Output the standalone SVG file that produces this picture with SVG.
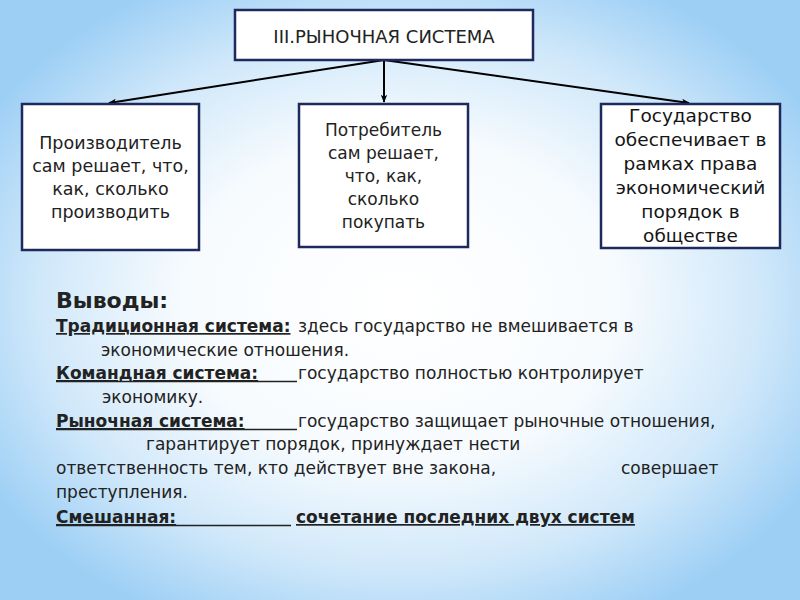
<svg xmlns="http://www.w3.org/2000/svg" width="800" height="600" viewBox="0 0 800 600">
  <defs>
    <radialGradient id="bg" cx="50%" cy="50%" r="60%" fx="50%" fy="50%">
      <stop offset="0" stop-color="#ffffff"/>
      <stop offset="0.45" stop-color="#f7fbfe"/>
      <stop offset="0.75" stop-color="#d0e8fa"/>
      <stop offset="1" stop-color="#9dcff5"/>
    </radialGradient>
    <marker id="arr" viewBox="0 0 10 10" refX="9" refY="5" markerWidth="8" markerHeight="8" orient="auto" markerUnits="userSpaceOnUse">
      <path d="M0,1 L10,5 L0,9 L2.5,5 Z" fill="#000"/>
    </marker>
    <style>
      .box { fill: #ffffff; stroke: #1e2a5e; stroke-width: 2.5; }
      .t { font-family: "DejaVu Sans", "Liberation Sans", sans-serif; fill: #222; }
      .lt { font-size: 17.5px; text-anchor: middle; }
      .mt { font-size: 17px; text-anchor: middle; }
      .rt { font-size: 18.5px; text-anchor: middle; fill: #151515; }
      .body { font-size: 17px; }
      .b { font-weight: bold; }
      .u { text-decoration: underline; }
      .ul { stroke: #222; stroke-width: 1.3; }
      .conn { stroke: #000; stroke-width: 2; fill: none; marker-end: url(#arr); }
    </style>
  </defs>
  <rect width="800" height="600" fill="url(#bg)"/>

  <g id="connectors">
    <line class="conn" x1="384" y1="60" x2="109" y2="103"/>
    <line class="conn" x1="384" y1="60" x2="384" y2="102"/>
    <line class="conn" x1="384" y1="60" x2="689" y2="103"/>
  </g>

  <g id="top">
    <rect class="box" x="235" y="10" width="298" height="50"/>
    <text class="t" x="384" y="43" font-size="18" text-anchor="middle" fill="#1a1a1a">III.РЫНОЧНАЯ СИСТЕМА</text>
  </g>

  <g id="producer">
    <rect class="box" x="22" y="104" width="177" height="146"/>
    <text class="t lt" x="110.5" y="149">Производитель</text>
    <text class="t lt" x="110.5" y="172">сам решает, что,</text>
    <text class="t lt" x="110.5" y="195">как, сколько</text>
    <text class="t lt" x="110.5" y="218">производить</text>
  </g>

  <g id="consumer">
    <rect class="box" x="299" y="104" width="169" height="143"/>
    <text class="t mt" x="383.5" y="136">Потребитель</text>
    <text class="t mt" x="383.5" y="159">сам решает,</text>
    <text class="t mt" x="383.5" y="182">что, как,</text>
    <text class="t mt" x="383.5" y="205">сколько</text>
    <text class="t mt" x="383.5" y="228">покупать</text>
  </g>

  <g id="state">
    <rect class="box" x="601" y="104" width="179" height="144"/>
    <text class="t rt" x="690.5" y="122">Государство</text>
    <text class="t rt" x="690.5" y="146">обеспечивает в</text>
    <text class="t rt" x="690.5" y="170">рамках права</text>
    <text class="t rt" x="690.5" y="194">экономический</text>
    <text class="t rt" x="690.5" y="218">порядок в</text>
    <text class="t rt" x="690.5" y="242">обществе</text>
  </g>

  <g id="conclusions">
    <text class="t b" x="56" y="308" font-size="22">Выводы:</text>
    <text class="t body b u" x="56" y="332">Традиционная система:</text>
    <text class="t body" x="298" y="332">здесь государство не вмешивается в</text>
    <text class="t body" x="101" y="356">экономические отношения.</text>
    <text class="t body b u" x="56" y="379">Командная система:</text>
    <line class="ul" x1="56" y1="381.5" x2="297" y2="381.5"/>
    <text class="t body" x="298" y="379">государство полностью контролирует</text>
    <text class="t body" x="102" y="403">экономику.</text>
    <text class="t body b u" x="56" y="427">Рыночная система:</text>
    <line class="ul" x1="56" y1="429.5" x2="297" y2="429.5"/>
    <text class="t body" x="298" y="427">государство защищает рыночные отношения,</text>
    <text class="t body" x="146" y="450">гарантирует порядок, принуждает нести</text>
    <text class="t body" x="56" y="474">ответственность тем, кто действует вне закона,</text>
    <text class="t body" x="621" y="474">совершает</text>
    <text class="t body" x="56" y="498">преступления.</text>
    <text class="t body b u" x="56" y="523">Смешанная:</text>
    <line class="ul" x1="56" y1="525.5" x2="291" y2="525.5"/>
    <text class="t body b u" x="296" y="523">сочетание последних двух систем</text>
  </g>
</svg>
